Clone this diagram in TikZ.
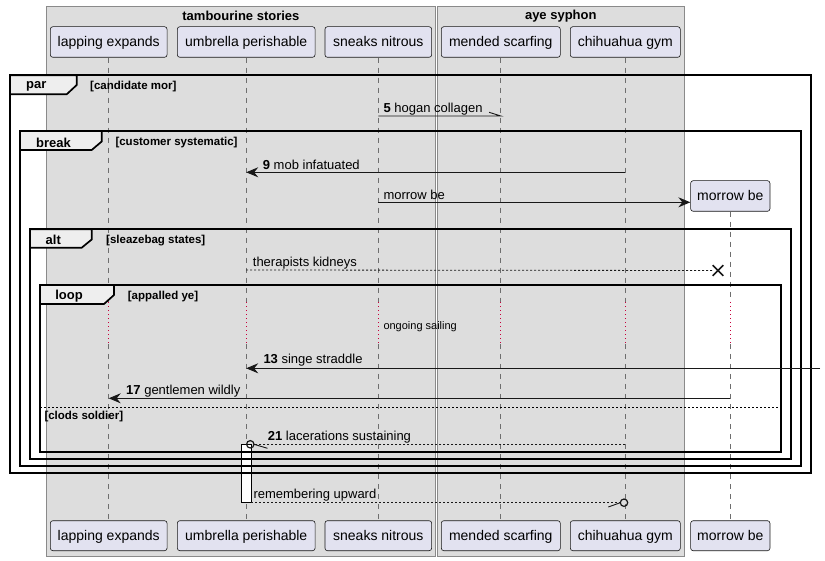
\documentclass[tikz,border=0pt]{standalone}
\usepackage{fontspec}
\setmainfont{Liberation Sans}
\usetikzlibrary{arrows.meta,calc}

\definecolor{grpbg}{HTML}{DDDDDD}
\definecolor{grpline}{HTML}{8A8A8A}
\definecolor{partbg}{HTML}{E2E2F0}
\definecolor{partline}{HTML}{181818}
\definecolor{lifegray}{HTML}{6E6E6E}
\definecolor{tabbg}{HTML}{EEEEEE}
\definecolor{delayred}{HTML}{C8003C}
\definecolor{ink}{HTML}{181818}

\tikzset{
  grpbox/.style={fill=grpbg, draw=grpline, line width=0.8pt},
  grptitle/.style={font=\fontsize{13}{15}\selectfont\bfseries, inner sep=0pt, yshift=-1pt},
  actor/.style={draw=partline, fill=partbg, rounded corners=2.5pt, line width=0.6pt,
                inner sep=0pt, text height=11pt, text depth=2pt,
                font=\fontsize{14}{16}\selectfont},
  lifeline/.style={draw=lifegray, line width=0.7pt, dash pattern=on 5pt off 5pt},
  delayline/.style={draw=delayred, line width=0.8pt, dash pattern=on 0.8pt off 3.2pt},
  frameline/.style={draw=black, line width=1.7pt},
  tabshape/.style={fill=tabbg, draw=black, line width=1.7pt},
  tablabel/.style={font=\fontsize{13}{15}\selectfont\bfseries, inner sep=0pt, yshift=-1pt},
  guard/.style={font=\fontsize{11.5}{13}\selectfont\bfseries, anchor=west, inner sep=0pt, yshift=-1.5pt},
  msg/.style={draw=ink, line width=0.9pt},
  reply/.style={draw=ink, line width=0.8pt, dash pattern=on 2pt off 2pt},
  solidhead/.style={-{Stealth[length=12pt,width=10pt,inset=4pt]}},
  msglabel/.style={font=\fontsize{13}{15}\selectfont, anchor=west, inner sep=0pt, yshift=-1.5pt},
  delaylabel/.style={font=\fontsize{11}{13}\selectfont, anchor=west, inner sep=0pt, yshift=-1.5pt},
  actbar/.style={fill=white, draw=black, line width=1pt},
}

\begin{document}
\begin{tikzpicture}[x=1pt,y=-1pt]
\useasboundingbox (0,0) rectangle (825,561);

% participant groups
\draw[grpbox] (46,6) rectangle (435.7,556);
\draw[grpbox] (437.3,6) rectangle (684.3,556);
\node[grptitle] (gTS) at (240.9,15) {tambourine stories};
\node[grptitle] (gAS) at (560.8,15) {aye syphon};

% participants, head and foot
\node[actor, minimum width=116.7pt, minimum height=30.6pt] (pLE) at (108.7,42) {lapping expands};
\node[actor, minimum width=137.7pt, minimum height=30.6pt] (pUP) at (246.2,42) {umbrella perishable};
\node[actor, minimum width=106.7pt, minimum height=30.6pt] (pSN) at (378.3,42) {sneaks nitrous};
\node[actor, minimum width=119pt,   minimum height=30.6pt] (pMS) at (500.8,42) {mended scarfing};
\node[actor, minimum width=110pt,   minimum height=30.6pt] (pCG) at (625.3,42) {chihuahua gym};

\node[actor, minimum width=116.7pt, minimum height=30pt] (bLE) at (108.7,535.7) {lapping expands};
\node[actor, minimum width=137.7pt, minimum height=30pt] (bUP) at (246.2,535.7) {umbrella perishable};
\node[actor, minimum width=106.7pt, minimum height=30pt] (bSN) at (378.3,535.7) {sneaks nitrous};
\node[actor, minimum width=119pt,   minimum height=30pt] (bMS) at (500.8,535.7) {mended scarfing};
\node[actor, minimum width=110pt,   minimum height=30pt] (bCG) at (625.3,535.7) {chihuahua gym};
\node[actor, minimum width=79.3pt,  minimum height=30pt] (bMB) at (730.3,535.7) {morrow be};

% created participant
\node[actor, minimum width=79.3pt, minimum height=30.6pt] (pMB) at (730.3,196) {morrow be};

% lifelines, dotted during the delay
\foreach \p/\q in {pLE/bLE, pUP/bUP, pSN/bSN, pMS/bMS, pCG/bCG, pMB/bMB} {
  \draw[lifeline] (\p.south) -- (\p |- 0,302);
  \draw[delayline] (\p |- 0,302.5) -- (\p |- 0,344);
  \draw[lifeline] (\p |- 0,344) -- (\q.north);
}

% activation on umbrella perishable
\draw[actbar] (241.3,444.3) rectangle (251.3,502.7);

% combined fragments
\draw[frameline] (10,75.3) rectangle (810.7,473.3);
\draw[frameline] (20,131) rectangle (800.7,465.7);
\draw[frameline] (30,229.3) rectangle (790.7,459);
\draw[frameline] (40,285) rectangle (780.7,452.3);

\draw[tabshape] (10,75.3) -- (76.7,75.3) -- (76.7,85) -- (66.7,94.3) -- (10,94.3) -- cycle;
\draw[tabshape] (20,131) -- (101.7,131) -- (101.7,141.5) -- (91.7,150) -- (20,150) -- cycle;
\draw[tabshape] (30,229.3) -- (91.7,229.3) -- (91.7,239.5) -- (81.7,247.7) -- (30,247.7) -- cycle;
\draw[tabshape] (40,285) -- (114,285) -- (114,295) -- (104,304) -- (40,304) -- cycle;

\node[tablabel] (tPar) at (36.2,85.5) {par};
\node[tablabel] (tBreak) at (53.5,141.5) {break};
\node[tablabel] (tAlt) at (53.3,239.3) {alt};
\node[tablabel] (tLoop) at (69,295.3) {loop};

\node[guard] (cPar) at (90,85) {[candidate mor]};
\node[guard] (cBreak) at (115.3,141.3) {[customer systematic]};
\node[guard] (cAlt) at (106,239) {[sleazebag states]};
\node[guard] (cLoop) at (127.7,295.3) {[appalled ye]};

% else separator
\coordinate (elseL) at (40,407.3);
\coordinate (elseR) at (780.7,407.3);
\draw[draw=black, line width=0.8pt, dash pattern=on 2pt off 2pt] (elseL) -- (elseR);
\node[guard] (cElse) at (44.3,415.3) {[clods soldier]};

% message endpoints
\coordinate (m5a) at (pSN |- 0,116);
\coordinate (m5b) at (pMS |- 0,116);
\coordinate (m9a) at (pCG |- 0,172.3);
\coordinate (m9b) at (pUP |- 0,172.3);
\coordinate (mCa) at (pSN |- 0,202.3);
\coordinate (mTa) at (pUP |- 0,270);
\coordinate (mTx) at (718,270.5);
\coordinate (m13a) at (820,368.3);
\coordinate (m13b) at (pUP |- 0,368.3);
\coordinate (m17a) at (pMB |- 0,398.3);
\coordinate (m17b) at (pLE |- 0,398.3);
\coordinate (m21a) at (pCG |- 0,444.3);
\coordinate (m21b) at (250.3,444.3);
\coordinate (mRa) at (251.3,502.7);
\coordinate (mRb) at (pCG |- 0,502.7);

% 5 hogan collagen
\draw[msg] (m5a) -- (m5b) -- ++(-11.7,-3.7);
\node[msglabel] (l5) at (383.3,107.5) {\textbf{5} hogan collagen};

% 9 mob infatuated
\draw[msg, solidhead] (m9a) -- (m9b);
\node[msglabel] (l9) at (262.7,163.3) {\textbf{9} mob infatuated};

% create morrow be
\draw[msg, solidhead] (mCa) -- (pMB.west |- mCa);
\node[msglabel] (lC) at (383.3,193.5) {morrow be};

% therapists kidneys, ending in a destroy mark
\draw[reply] (mTa) -- ($(mTx)+(-5.3,0)$);
\draw[draw=ink, line width=1.5pt] ($(mTx)+(-5.3,-5.3)$) -- ($(mTx)+(5.3,5.3)$)
  ($(mTx)+(-5.3,5.3)$) -- ($(mTx)+(5.3,-5.3)$);
\node[msglabel] (lT) at (252.7,261.7) {therapists kidneys};

% delay
\node[delaylabel] (lD) at (383.3,325) {ongoing sailing};

% 13 singe straddle
\draw[msg, solidhead] (m13a) -- (m13b);
\node[msglabel] (l13) at (263.3,358.3) {\textbf{13} singe straddle};

% 17 gentlemen wildly
\draw[msg, solidhead] (m17a) -- (m17b);
\node[msglabel] (l17) at (126,389.3) {\textbf{17} gentlemen wildly};

% 21 lacerations sustaining
\draw[reply] (m21a) -- ($(m21b)+(3.7,0)$);
\draw[draw=ink, line width=1.2pt] (m21b) circle (3.7);
\draw[draw=ink, line width=0.9pt] ($(m21b)+(3.7,0)$) -- ++(13.5,4);
\node[msglabel] (l21) at (267.7,435.7) {\textbf{21} lacerations sustaining};

% remembering upward
\draw[reply] (mRa) -- ($(mRb)+(-3.7,0)$);
\draw[draw=ink, line width=1.2pt] ($(mRb)+(-1.3,0)$) circle (3.7);
\draw[draw=ink, line width=0.9pt] ($(mRb)+(-5,0)$) -- ++(-12,4.3);
\node[msglabel] (lR) at (253.3,493.3) {remembering upward};

\end{tikzpicture}
\end{document}
